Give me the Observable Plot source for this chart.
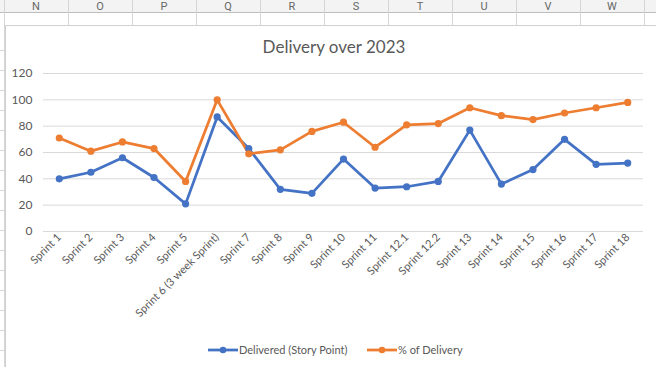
<!DOCTYPE html>
<html>
<head>
<meta charset="utf-8">
<script src="https://cdn.jsdelivr.net/npm/d3@7"></script>
<script src="https://cdn.jsdelivr.net/npm/@observablehq/plot@0.6"></script>
<style>
  html, body { margin: 0; padding: 0; background: #fff; }
  body { width: 656px; height: 367px; position: relative; overflow: hidden; font-family: Lato, "Open Sans", sans-serif; }
  #sheet { position: absolute; left: 0; top: 0; width: 656px; height: 367px; }
  #chartbox { position: absolute; left: 5px; top: 25px; width: 660px; height: 360px; background: #fff; border-left: 1px solid #d0d0d0; border-top: 1px solid #d0d0d0; }
  #title { position: absolute; left: 0; top: 36px; width: 668px; text-align: center; font-size: 17px; color: #595959; }
  #plot { position: absolute; left: 0; top: 60px; }
  #legend { position: absolute; top: 343px; left: 0; width: 656px; font-size: 11px; color: #595959; }
  .lg { position: absolute; display: flex; align-items: center; white-space: nowrap; }
  .lg svg { margin-right: 1px; }
</style>
</head>
<body>
<svg id="sheet" width="656" height="367"></svg>
<div id="chartbox"></div>
<div id="title">Delivery over 2023</div>
<div id="plot"></div>
<div id="legend"></div>
<script>
const columnLetters = ["N","O","P","Q","R","S","T","U","V","W"];
const sprints = ["Sprint 1","Sprint 2","Sprint 3","Sprint 4","Sprint 5","Sprint 6 (3 week Sprint)","Sprint 7","Sprint 8","Sprint 9","Sprint 10","Sprint 11","Sprint 12.1","Sprint 12.2","Sprint 13","Sprint 14","Sprint 15","Sprint 16","Sprint 17","Sprint 18"];
const delivered = [40,45,56,41,21,87,63,32,29,55,33,34,38,77,36,47,70,51,52];
const pctDelivery = [71,61,68,63,38,100,59,62,76,83,64,81,82,94,88,85,90,94,98];
const yTicks = [0,20,40,60,80,100,120];
const seriesNames = ["Delivered (Story Point)","% of Delivery"];
const seriesColors = ["#4472C4","#ED7D31"];

// spreadsheet background
const sheet = d3.select("#sheet");
sheet.append("rect").attr("x",0).attr("y",0).attr("width",656).attr("height",12).attr("fill","#f3f3f3");
sheet.append("line").attr("x1",0).attr("x2",656).attr("y1",12.5).attr("y2",12.5).attr("stroke","#bdbdbd");
columnLetters.forEach((c,i)=>{
  const x0 = 4 + i*64;
  sheet.append("line").attr("x1",x0+0.5).attr("x2",x0+0.5).attr("y1",0).attr("y2",25).attr("stroke","#d6d6d6");
  sheet.append("text").attr("x",x0+32).attr("y",10).attr("text-anchor","middle")
    .attr("font-family","Roboto, sans-serif").attr("font-size",11).attr("fill","#666").text(c);
});
sheet.append("line").attr("x1",644.5).attr("x2",644.5).attr("y1",0).attr("y2",25).attr("stroke","#d6d6d6");
sheet.append("line").attr("x1",4.5).attr("x2",4.5).attr("y1",12).attr("y2",367).attr("stroke","#d6d6d6");
for (let y = 50; y <= 360; y += 20) {
  sheet.append("line").attr("x1",0).attr("x2",4).attr("y1",y+0.5).attr("y2",y+0.5).attr("stroke","#d6d6d6");
}

const rows = [];
sprints.forEach((s,i)=>{
  rows.push({sprint:s, value:delivered[i], series:seriesNames[0]});
  rows.push({sprint:s, value:pctDelivery[i], series:seriesNames[1]});
});

const chart = Plot.plot({
  width: 656,
  height: 271,
  marginLeft: 43,
  marginRight: 13,
  marginTop: 13,
  marginBottom: 100,
  style: {fontFamily: "Lato, 'Open Sans', sans-serif", fontSize: "11px", color: "#595959", background: "transparent"},
  x: {type: "point", domain: sprints, padding: 0.5, round: false, label: null, tickSize: 0, tickRotate: -45, tickPadding: 6},
  y: {domain: [0,120], ticks: yTicks, label: null, tickSize: 0, tickPadding: 11},
  color: {domain: seriesNames, range: seriesColors},
  marks: [
    Plot.gridY(yTicks, {stroke: "#d9d9d9", strokeOpacity: 1}),
    Plot.axisY({ticks: yTicks, tickSize: 0, tickPadding: 11, fontSize: 12, label: null}),
    Plot.axisX({tickSize: 0, tickRotate: -45, tickPadding: 4, label: null, fontSize: 11}),
    Plot.line(rows, {x: "sprint", y: "value", z: "series", stroke: "series", strokeWidth: 2.75, strokeLinejoin: "round"}),
    Plot.dot(rows, {x: "sprint", y: "value", fill: "series", r: 3.6})
  ]
});
document.getElementById("plot").appendChild(chart);

// legend
const legend = d3.select("#legend");
const lefts = [208, 367];
seriesNames.forEach((n,i)=>{
  const item = legend.append("div").attr("class","lg").style("left", lefts[i]+"px");
  const sv = item.append("svg").attr("width",30).attr("height",10);
  sv.append("line").attr("x1",0).attr("x2",30).attr("y1",5).attr("y2",5).attr("stroke",seriesColors[i]).attr("stroke-width",2.75);
  sv.append("circle").attr("cx",15).attr("cy",5).attr("r",3.3).attr("fill",seriesColors[i]);
  item.append("span").text(n);
});
</script>
</body>
</html>
